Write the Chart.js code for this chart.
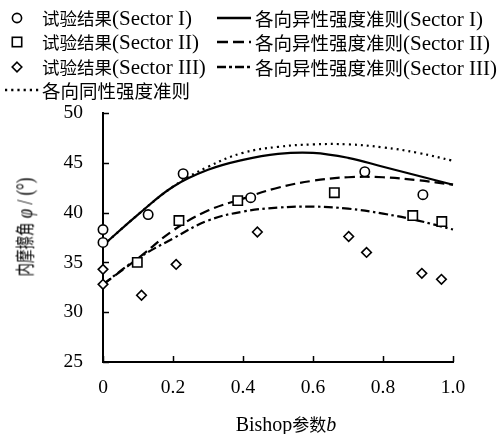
<!DOCTYPE html>
<html>
<head>
<meta charset="utf-8">
<script src="https://cdn.jsdelivr.net/npm/chart.js@4"></script>
<style>
  html, body { margin: 0; padding: 0; background: #fff; }
  #wrap { position: relative; width: 504px; height: 434px; overflow: hidden; }
  #c { position: absolute; left: 0; top: 0; }
  .lg, .ttl { position: absolute; font-family: "Liberation Serif", "Noto Sans CJK SC", serif; color: #000; white-space: nowrap; line-height: 22px; }
  .cjk { font-family: "Noto Sans CJK SC", sans-serif; }
  .lat { font-family: "Liberation Serif", serif; }
  .sw { position: absolute; }
</style>
</head>
<body>
<div id="wrap">
  <canvas id="c" width="504" height="434"></canvas>
  <div id="legend"></div>
  <div id="xtitle" class="ttl" style="left:286px;top:425px;transform:translate(-50%,-50%);line-height:20px;"></div>
  <div id="ytitle" class="ttl" style="left:25px;top:227px;transform:translate(-50%,-50%) rotate(-90deg) scaleY(1.4);line-height:20px;"></div>
</div>
<script>
// ---- data ----
const bGrid = [0, 0.1, 0.2, 0.3, 0.4, 0.5, 0.6, 0.7, 0.8, 0.9, 1.0];
const anisoI   = [36.7, 39.8, 42.6, 44.3, 45.3, 45.9, 46.0, 45.5, 44.6, 43.7, 42.8];
const anisoII  = [32.8, 35.4, 38.2, 40.2, 41.4, 42.5, 43.2, 43.55, 43.55, 43.25, 42.8];
const anisoIII = [32.8, 35.4, 37.4, 39.2, 40.1, 40.5, 40.6, 40.4, 39.9, 39.2, 38.3];
const isotropic = [36.7, 39.8, 42.6, 44.6, 46.0, 46.6, 46.85, 46.85, 46.55, 46.0, 45.2];

const testIb = [0, 0, 0.129, 0.229, 0.422, 0.748, 0.914];
const testIphi = [38.3, 37.0, 39.8, 43.9, 41.5, 44.1, 41.8];
const testIIb = [0.098, 0.217, 0.385, 0.661, 0.885, 0.968];
const testIIphi = [35.0, 39.2, 41.2, 42.0, 39.7, 39.1];
const testIIIb = [0, 0, 0.11, 0.209, 0.441, 0.702, 0.753, 0.911, 0.967];
const testIIIphi = [34.3, 32.8, 31.7, 34.8, 38.05, 37.6, 36.0, 33.9, 33.3];

const xTickLabels = ['0', '0.2', '0.4', '0.6', '0.8', '1.0'];
const yTickValues = [25, 30, 35, 40, 45, 50];

const testName = '试验结果';
const anisoName = '各向异性强度准则';
const isoName = '各向同性强度准则';
const sectorNames = ['(Sector I)', '(Sector II)', '(Sector III)'];

// ---- helpers ----
const pts = (xs, ys) => xs.map((x, i) => ({ x: x, y: ys[i] }));
const FONT = '"Liberation Serif", serif';

function lineDs(label, ys, dash) {
  return { type: 'line', label, data: pts(bGrid, ys), borderColor: '#000', borderWidth: 2.2,
           borderDash: dash, pointRadius: 0, tension: 0.4, fill: false, clip: false, order: 2 };
}
function markDs(label, xs, ys, style, r) {
  return { type: 'scatter', label, data: pts(xs, ys), pointStyle: style, pointRadius: r,
           pointBorderColor: '#000', pointBackgroundColor: '#fff', pointBorderWidth: 1.6,
           showLine: false, clip: false, order: 1 };
}

const inwardTicks = {
  id: 'inwardTicks',
  afterDraw(chart) {
    const { ctx, chartArea, scales } = chart;
    ctx.save();
    ctx.strokeStyle = '#000';
    ctx.lineWidth = 1.5;
    scales.x.ticks.forEach(t => {
      const px = Math.round(scales.x.getPixelForValue(t.value)) + 0.5;
      ctx.beginPath(); ctx.moveTo(px, chartArea.bottom); ctx.lineTo(px, chartArea.bottom - 6); ctx.stroke();
    });
    scales.y.ticks.forEach(t => {
      const py = Math.round(scales.y.getPixelForValue(t.value)) + 0.5;
      ctx.beginPath(); ctx.moveTo(chartArea.left, py); ctx.lineTo(chartArea.left + 6, py); ctx.stroke();
    });
    ctx.restore();
  }
};

new Chart(document.getElementById('c'), {
  data: {
    datasets: [
      lineDs(anisoName + sectorNames[0], anisoI, []),
      lineDs(anisoName + sectorNames[1], anisoII, [10, 5]),
      lineDs(anisoName + sectorNames[2], anisoIII, [9, 3.5, 2.5, 3.5]),
      lineDs(isoName, isotropic, [2, 4]),
      markDs(testName + sectorNames[0], testIb, testIphi, 'circle', 4.7),
      markDs(testName + sectorNames[1], testIIb, testIIphi, 'rect', 6.6),
      markDs(testName + sectorNames[2], testIIIb, testIIIphi, 'rectRot', 4.8)
    ]
  },
  options: {
    responsive: false,
    animation: false,
    layout: { padding: { top: 113, right: 51, left: 0, bottom: 0 } },
    plugins: { legend: { display: false }, tooltip: { enabled: false } },
    scales: {
      x: {
        type: 'linear', min: 0, max: 1,
        afterBuildTicks: s => { s.ticks = xTickLabels.map(v => ({ value: parseFloat(v) })); },
        ticks: { callback: (v, i) => xTickLabels[i], color: '#000', padding: 14,
                 font: { family: FONT, size: 19.5 }, maxRotation: 0 },
        grid: { display: false, drawTicks: false },
        border: { display: true, color: '#000', width: 2 },
        title: { display: false },
        afterFit: s => { s.height = 72; }
      },
      y: {
        type: 'linear', min: 25, max: 50,
        afterBuildTicks: s => { s.ticks = yTickValues.map(v => ({ value: v })); },
        ticks: { color: '#000', padding: 20, font: { family: FONT, size: 19.5 } },
        grid: { display: false, drawTicks: false },
        border: { display: true, color: '#000', width: 2 },
        title: { display: false },
        afterFit: s => { s.width = 103; }
      }
    }
  },
  plugins: [inwardTicks]
});

// ---- axis titles (HTML text) ----
document.getElementById('xtitle').innerHTML =
  '<span class="lat" style="font-size:20px">Bishop</span><span class="cjk" style="font-size:17px">参数</span><span class="lat" style="font-size:20px;font-style:italic">b</span>';
document.getElementById('ytitle').innerHTML =
  '<span class="cjk" style="font-size:13.5px">内摩擦角</span><span class="lat" style="font-size:17px"> <i>φ</i> / (°)</span>';

// ---- HTML legend ----
function marker(kind) {
  if (kind === 'circle') return '<circle cx="8" cy="8" r="4.6" fill="#fff" stroke="#000" stroke-width="1.6"/>';
  if (kind === 'rect') return '<rect x="3.3" y="3.3" width="9.4" height="9.4" fill="#fff" stroke="#000" stroke-width="1.6"/>';
  return '<polygon points="8,3.2 12.8,8 8,12.8 3.2,8" fill="#fff" stroke="#000" stroke-width="1.6"/>';
}
function lineSw(dash) {
  return '<line x1="0" y1="8" x2="34" y2="8" stroke="#000" stroke-width="2.4"' + (dash ? ' stroke-dasharray="' + dash + '"' : '') + '/>';
}
function label(cjkText, cjkSize, latText) {
  return '<span class="cjk" style="font-size:' + cjkSize + 'px">' + cjkText + '</span>' +
         (latText ? '<span class="lat" style="font-size:21px">' + latText + '</span>' : '');
}
const rowY = [18, 42, 67];
const markers = ['circle', 'rect', 'diamond'];
const swDash = ['', '11,5', '9,3,3,3'];
const lg = document.getElementById('legend');
let html = '';
rowY.forEach((y, i) => {
  html += '<svg class="sw" style="left:9px;top:' + (y - 8) + 'px" width="16" height="16">' + marker(markers[i]) + '</svg>';
  html += '<div class="lg" style="left:42px;top:' + (y - 11) + 'px">' + label(testName, 17.5, sectorNames[i]) + '</div>';
  html += '<svg class="sw" style="left:217px;top:' + (y - 8) + 'px" width="34" height="16">' + lineSw(swDash[i]) + '</svg>';
  html += '<div class="lg" style="left:255px;top:' + (y - 11) + 'px">' + label(anisoName, 18.5, sectorNames[i]) + '</div>';
});
html += '<svg class="sw" style="left:5px;top:82px" width="34" height="16">' + lineSw('2.2,4') + '</svg>';
html += '<div class="lg" style="left:42px;top:79px">' + label(isoName, 18.5, '') + '</div>';
lg.innerHTML = html;
</script>
</body>
</html>
